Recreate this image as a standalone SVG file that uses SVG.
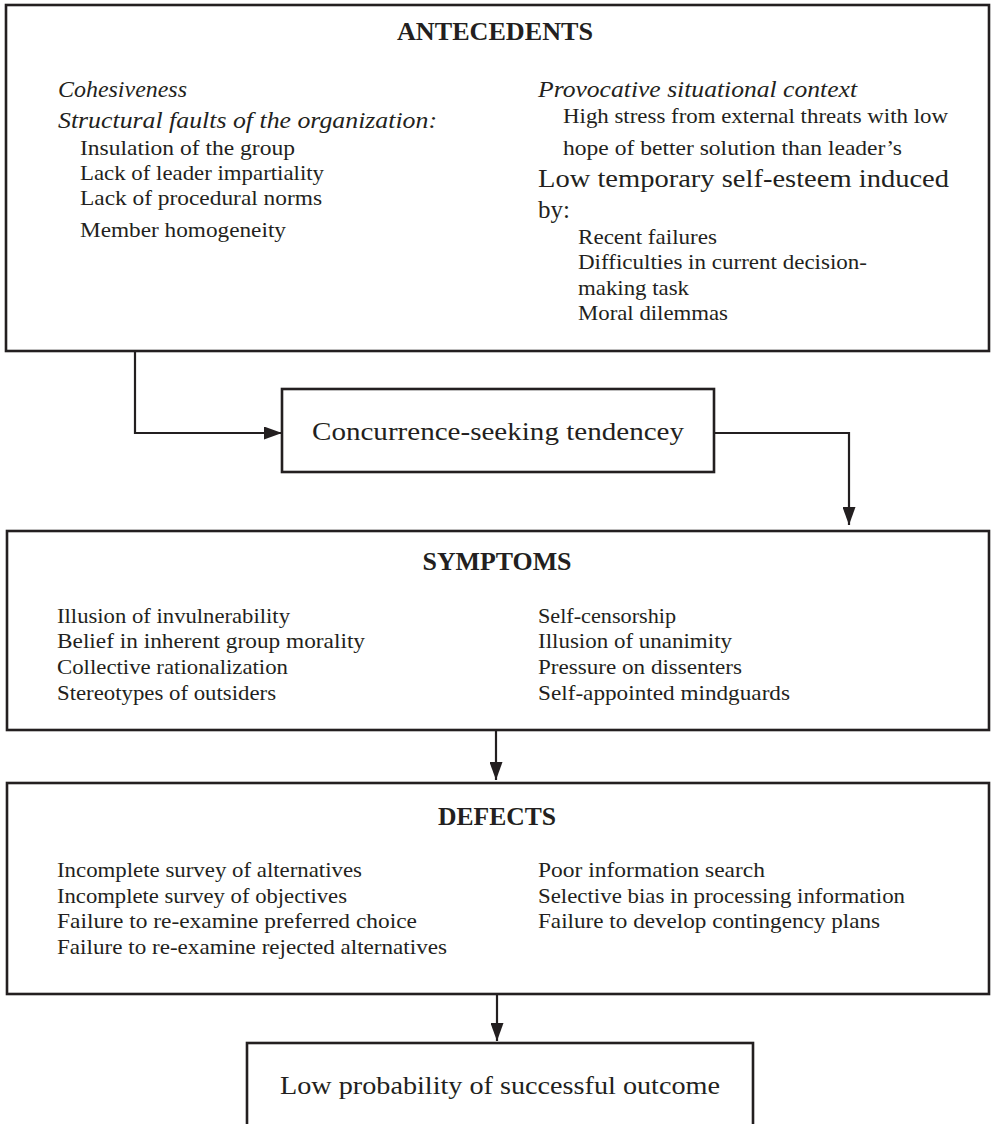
<svg xmlns="http://www.w3.org/2000/svg" width="993" height="1124" viewBox="0 0 993 1124">
<style>
  .box { fill: #ffffff; stroke: #231f20; stroke-width: 2.6; }
  .conn { fill: none; stroke: #231f20; stroke-width: 2.2; }
  text { font-family: "Liberation Serif", "Times New Roman", serif; fill: #231f20; }
  .title { font-size: 25px; font-weight: bold; text-anchor: middle; }
  .it { font-size: 24px; font-style: italic; }
  .item { font-size: 22px; }
  .big { font-size: 25px; }
</style>
<defs>
  <marker id="arrow" viewBox="0 0 18 13" refX="18" refY="6.5" markerWidth="18" markerHeight="13" markerUnits="userSpaceOnUse" orient="auto">
    <path d="M0,0 L18,6.5 L0,13 Z" fill="#231f20"/>
  </marker>
</defs>
<rect width="993" height="1124" fill="#ffffff"/>

<g id="connectors">
  <path class="conn" d="M135,351 V433 H282" marker-end="url(#arrow)"/>
  <path class="conn" d="M714,433 H849 V525" marker-end="url(#arrow)"/>
  <path class="conn" d="M496,730 V780" marker-end="url(#arrow)"/>
  <path class="conn" d="M497,994 V1041" marker-end="url(#arrow)"/>
</g>

<g id="antecedents">
  <rect class="box" x="6" y="5" width="983" height="346"/>
  <text class="title" x="495" y="40" textLength="196" lengthAdjust="spacingAndGlyphs">ANTECEDENTS</text>
  <text class="it" x="58" y="97" textLength="129" lengthAdjust="spacingAndGlyphs">Cohesiveness</text>
  <text class="it" x="58" y="128" textLength="379" lengthAdjust="spacingAndGlyphs">Structural faults of the organization:</text>
  <text class="item" x="80" y="155" textLength="215" lengthAdjust="spacingAndGlyphs">Insulation of the group</text>
  <text class="item" x="80" y="180" textLength="244" lengthAdjust="spacingAndGlyphs">Lack of leader impartiality</text>
  <text class="item" x="80" y="205" textLength="242" lengthAdjust="spacingAndGlyphs">Lack of procedural norms</text>
  <text class="item" x="80" y="237" textLength="206" lengthAdjust="spacingAndGlyphs">Member homogeneity</text>
  <text class="it" x="538" y="97" textLength="319" lengthAdjust="spacingAndGlyphs">Provocative situational context</text>
  <text class="item" x="563" y="123" textLength="385" lengthAdjust="spacingAndGlyphs">High stress from external threats with low</text>
  <text class="item" x="563" y="155" textLength="339" lengthAdjust="spacingAndGlyphs">hope of better solution than leader’s</text>
  <text class="big" x="538" y="187" textLength="411" lengthAdjust="spacingAndGlyphs">Low temporary self-esteem induced</text>
  <text class="big" x="538" y="218">by:</text>
  <text class="item" x="578" y="244" textLength="139" lengthAdjust="spacingAndGlyphs">Recent failures</text>
  <text class="item" x="578" y="269" textLength="289" lengthAdjust="spacingAndGlyphs">Difficulties in current decision-</text>
  <text class="item" x="578" y="295" textLength="111" lengthAdjust="spacingAndGlyphs">making task</text>
  <text class="item" x="578" y="320" textLength="150" lengthAdjust="spacingAndGlyphs">Moral dilemmas</text>
</g>

<g id="concurrence">
  <rect class="box" x="282" y="389" width="432" height="83"/>
  <text class="big" x="312" y="440" textLength="372" lengthAdjust="spacingAndGlyphs">Concurrence-seeking tendencey</text>
</g>

<g id="symptoms">
  <rect class="box" x="7" y="531" width="982" height="199"/>
  <text class="title" x="497" y="570" textLength="149" lengthAdjust="spacingAndGlyphs">SYMPTOMS</text>
  <text class="item" x="57" y="623" textLength="233" lengthAdjust="spacingAndGlyphs">Illusion of invulnerability</text>
  <text class="item" x="57" y="648" textLength="308" lengthAdjust="spacingAndGlyphs">Belief in inherent group morality</text>
  <text class="item" x="57" y="674" textLength="231" lengthAdjust="spacingAndGlyphs">Collective rationalization</text>
  <text class="item" x="57" y="700" textLength="219" lengthAdjust="spacingAndGlyphs">Stereotypes of outsiders</text>
  <text class="item" x="538" y="623" textLength="138" lengthAdjust="spacingAndGlyphs">Self-censorship</text>
  <text class="item" x="538" y="648" textLength="194" lengthAdjust="spacingAndGlyphs">Illusion of unanimity</text>
  <text class="item" x="538" y="674" textLength="204" lengthAdjust="spacingAndGlyphs">Pressure on dissenters</text>
  <text class="item" x="538" y="700" textLength="252" lengthAdjust="spacingAndGlyphs">Self-appointed mindguards</text>
</g>

<g id="defects">
  <rect class="box" x="7" y="783" width="982" height="211"/>
  <text class="title" x="497" y="825" textLength="118" lengthAdjust="spacingAndGlyphs">DEFECTS</text>
  <text class="item" x="57" y="877" textLength="305" lengthAdjust="spacingAndGlyphs">Incomplete survey of alternatives</text>
  <text class="item" x="57" y="903" textLength="290" lengthAdjust="spacingAndGlyphs">Incomplete survey of objectives</text>
  <text class="item" x="57" y="928" textLength="360" lengthAdjust="spacingAndGlyphs">Failure to re-examine preferred choice</text>
  <text class="item" x="57" y="954" textLength="390" lengthAdjust="spacingAndGlyphs">Failure to re-examine rejected alternatives</text>
  <text class="item" x="538" y="877" textLength="227" lengthAdjust="spacingAndGlyphs">Poor information search</text>
  <text class="item" x="538" y="903" textLength="367" lengthAdjust="spacingAndGlyphs">Selective bias in processing information</text>
  <text class="item" x="538" y="928" textLength="342" lengthAdjust="spacingAndGlyphs">Failure to develop contingency plans</text>
</g>

<g id="outcome">
  <rect class="box" x="247" y="1043" width="506" height="110"/>
  <text class="big" x="280" y="1094" textLength="440" lengthAdjust="spacingAndGlyphs">Low probability of successful outcome</text>
</g>
</svg>
